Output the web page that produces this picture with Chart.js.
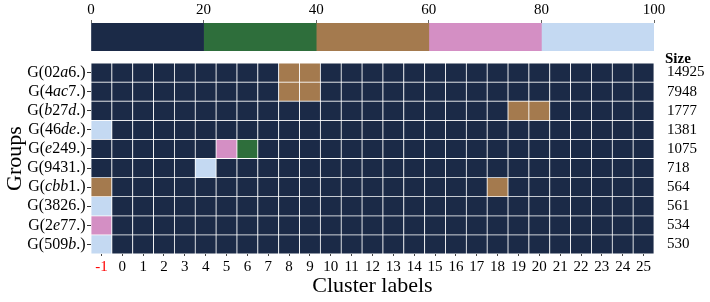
<!DOCTYPE html>
<html lang="en">
<head>
<meta charset="UTF-8">
<title>Cluster labels by group</title>
<script src="https://cdn.jsdelivr.net/npm/chart.js/dist/chart.umd.min.js"></script>
<style>
  body { margin: 0; background: white; }
  .wrap { position: relative; width: 710px; height: 302px; }
  #mainBox { position: absolute; left: 0; top: 0; width: 710px; height: 302px; }
  #barBox { position: absolute; left: 0; top: 0; width: 710px; height: 60px; }
</style>
</head>
<body>
<div class="wrap">
  <div id="mainBox"><canvas id="heatChart"></canvas></div>
  <div id="barBox"><canvas id="scaleChart"></canvas></div>
</div>
<script>
// ---- data ----
const clusters = ['-1','0','1','2','3','4','5','6','7','8','9','10','11','12','13','14','15','16','17','18','19','20','21','22','23','24','25'];
const groups = ['02a6.', '4ac7.', 'b27d.', '46de.', 'e249.', '9431.', 'cbb1.', '3826.', '2e77.', '509b.'];
const sizes = [14925, 7948, 1777, 1381, 1075, 718, 564, 561, 534, 530];

// one row per group, one value (0-100) per cluster label
const row02a6 = [10,10,10,10,10,10,10,10,10,50,50,10,10,10,10,10,10,10,10,10,10,10,10,10,10,10,10];
const row4ac7 = [10,10,10,10,10,10,10,10,10,50,50,10,10,10,10,10,10,10,10,10,10,10,10,10,10,10,10];
const rowb27d = [10,10,10,10,10,10,10,10,10,10,10,10,10,10,10,10,10,10,10,10,50,50,10,10,10,10,10];
const row46de = [90,10,10,10,10,10,10,10,10,10,10,10,10,10,10,10,10,10,10,10,10,10,10,10,10,10,10];
const rowe249 = [10,10,10,10,10,10,70,30,10,10,10,10,10,10,10,10,10,10,10,10,10,10,10,10,10,10,10];
const row9431 = [10,10,10,10,10,90,10,10,10,10,10,10,10,10,10,10,10,10,10,10,10,10,10,10,10,10,10];
const rowcbb1 = [50,10,10,10,10,10,10,10,10,10,10,10,10,10,10,10,10,10,10,50,10,10,10,10,10,10,10];
const row3826 = [90,10,10,10,10,10,10,10,10,10,10,10,10,10,10,10,10,10,10,10,10,10,10,10,10,10,10];
const row2e77 = [70,10,10,10,10,10,10,10,10,10,10,10,10,10,10,10,10,10,10,10,10,10,10,10,10,10,10];
const row509b = [90,10,10,10,10,10,10,10,10,10,10,10,10,10,10,10,10,10,10,10,10,10,10,10,10,10,10];
const rows = [row02a6, row4ac7, rowb27d, row46de, rowe249, row9431, rowcbb1, row3826, row2e77, row509b];

// colour scale: 5 bins of 20
const binEdges = [0, 20, 40, 60, 80, 100];
const binColors = ['#1b2a47', '#2e6e3b', '#a47a4e', '#d48fc4', '#c4d9f2'];

function colorFor(v) {
  for (let i = 0; i < binColors.length; i++) {
    if (v < binEdges[i + 1]) return binColors[i];
  }
  return binColors[binColors.length - 1];
}

Chart.defaults.font.family = "'Liberation Serif', 'Times New Roman', serif";
Chart.defaults.color = '#000';

const rowTicks = (axis) => { axis.ticks = groups.map((g, i) => ({ value: i })); };

// group labels like G(02a6.) with italic letters
const groupLabels = {
  id: 'groupLabels',
  afterDraw(chart) {
    const ctx = chart.ctx;
    const yScale = chart.scales.y;
    const roman = "16px 'Liberation Serif'";
    const ital = "italic 16px 'Liberation Serif'";
    ctx.save();
    ctx.fillStyle = '#000';
    ctx.textBaseline = 'middle';
    ctx.textAlign = 'left';
    groups.forEach((g, i) => {
      const parts = [['G(', roman]];
      for (const ch of g) parts.push([ch, /[a-z]/.test(ch) ? ital : roman]);
      parts.push([')', roman]);
      let w = 0;
      parts.forEach(p => { ctx.font = p[1]; w += ctx.measureText(p[0]).width; });
      let x = yScale.right - 5.5 - w;
      const y = yScale.getPixelForValue(i);
      parts.forEach(p => {
        ctx.font = p[1];
        ctx.fillText(p[0], x, y);
        x += ctx.measureText(p[0]).width;
      });
    });
    // column heading for sizes
    const y2 = chart.scales.y2;
    ctx.font = "bold 15px 'Liberation Serif'";
    ctx.textBaseline = 'alphabetic';
    ctx.fillText('Size', y2.left + 11, chart.chartArea.top - 0.5);
    ctx.restore();
  }
};

new Chart(document.getElementById('heatChart'), {
  type: 'bar',
  data: {
    labels: clusters,
    datasets: rows.map((vals, r) => ({
      label: groups[r],
      data: vals.map(() => [r - 0.5, r + 0.5]),
      backgroundColor: vals.map(colorFor),
      borderColor: '#ffffff',
      borderWidth: 0.75,
      borderSkipped: false,
      grouped: false,
      barPercentage: 1,
      categoryPercentage: 1
    }))
  },
  options: {
    responsive: true,
    maintainAspectRatio: false,
    animation: false,
    layout: { padding: { top: 63, left: 0, right: 0, bottom: 0 } },
    plugins: { legend: { display: false }, tooltip: { enabled: false } },
    scales: {
      x: {
        afterFit: (s) => { s.height = 48; },
        grid: { drawOnChartArea: false, tickLength: 2, tickColor: '#444', offset: false },
        border: { display: false },
        ticks: {
          padding: 2,
          font: { size: 15 },
          autoSkip: false,
          maxRotation: 0,
          color: (c) => c.index === 0 ? '#ff0000' : '#000'
        },
        title: { display: true, text: 'Cluster labels', font: { size: 22 }, padding: { top: 0, bottom: 3 } }
      },
      y: {
        type: 'linear',
        min: -0.5,
        max: 9.5,
        reverse: true,
        afterBuildTicks: rowTicks,
        afterFit: (s) => { s.width = 91; },
        grid: { drawOnChartArea: false, tickLength: 4, tickColor: '#333' },
        border: { display: false },
        ticks: { display: false },
        title: { display: true, text: 'Groups', font: { size: 22 }, padding: { top: 2 } }
      },
      y2: {
        type: 'linear',
        position: 'right',
        min: -0.5,
        max: 9.5,
        reverse: true,
        afterBuildTicks: rowTicks,
        afterFit: (s) => { s.width = 56; },
        grid: { display: false, drawTicks: false },
        border: { display: false },
        ticks: { padding: 13, font: { size: 15 }, callback: (v) => String(sizes[v]) }
      }
    }
  },
  plugins: [groupLabels]
});

// colour bar across the top
new Chart(document.getElementById('scaleChart'), {
  type: 'bar',
  data: {
    labels: [''],
    datasets: binColors.map((c, i) => ({
      data: [binEdges[i + 1] - binEdges[i]],
      backgroundColor: c,
      borderWidth: 0,
      barPercentage: 1,
      categoryPercentage: 1
    }))
  },
  options: {
    indexAxis: 'y',
    responsive: true,
    maintainAspectRatio: false,
    animation: false,
    layout: { padding: { left: 91, right: 56, top: 0, bottom: 9 } },
    plugins: { legend: { display: false }, tooltip: { enabled: false } },
    scales: {
      x: {
        position: 'top',
        stacked: true,
        min: 0,
        max: 100,
        afterFit: (s) => { s.height = 23; },
        grid: { drawOnChartArea: false, tickLength: 3, tickColor: '#666' },
        border: { display: false },
        ticks: { stepSize: 20, padding: 1, font: { size: 15 }, maxRotation: 0 }
      },
      y: { stacked: true, display: false }
    }
  }
});
</script>
</body>
</html>
